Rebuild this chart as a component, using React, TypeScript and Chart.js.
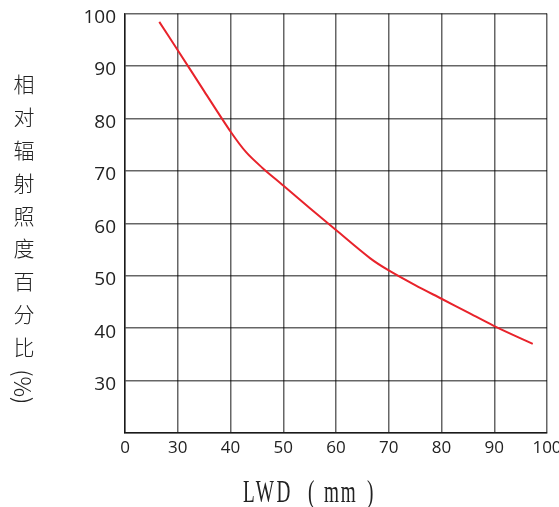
import React, { useEffect, useRef } from "react";
import Chart from "chart.js/auto";

// LWD (mm) vs relative irradiance (%)
const lwd: number[] = [26.5, 30, 35, 40, 43, 46, 50, 55, 60, 66.5, 70, 75, 80, 85, 90, 97.3];
const irradiance: number[] = [98.4, 93, 85.2, 77.5, 73.5, 70.6, 67.2, 62.9, 58.7, 53.3, 51, 48.2, 45.6, 43, 40.4, 37];

const xMin = 20;
const xMax = 100;
const yMin = 20;
const yMax = 100;
const step = 10;

const App: React.FC = () => {
  const chartRef = useRef<HTMLCanvasElement>(null);

  useEffect(() => {
    const ctx = chartRef.current!;
    const chart = new Chart(ctx, {
      type: "line",
      data: {
        datasets: [
          {
            data: lwd.map((x, i) => ({ x, y: irradiance[i] })),
            borderColor: "#e8232b",
            borderWidth: 2,
            pointRadius: 0,
            tension: 0.3,
            fill: false,
          },
        ],
      },
      options: {
        animation: false,
        responsive: false,
        maintainAspectRatio: false,
        layout: { padding: { left: 0, top: 13.5, right: 12, bottom: 0 } },
        plugins: { legend: { display: false }, tooltip: { enabled: false } },
        scales: {
          x: {
            type: "linear",
            min: xMin,
            max: xMax,
            ticks: {
              stepSize: step,
              padding: 5,
              color: "#222",
              font: { family: "'Open Sans'", size: 17 },
              callback: (v) => (v === xMin ? "0" : String(v)),
            },
            grid: { color: "rgba(0,0,0,0.6)", lineWidth: 1.5, drawTicks: false },
            border: { color: "rgba(0,0,0,0.75)", width: 1.5 },
            afterFit: (scale) => {
              scale.height = 74;
              scale.paddingLeft = 0;
              scale.paddingRight = 0;
            },
          },
          y: {
            min: yMin,
            max: yMax,
            ticks: {
              stepSize: step,
              padding: 9,
              labelOffset: 4,
              color: "#222",
              font: { family: "'Open Sans'", size: 19 },
              callback: (v) => (v === yMin ? "" : String(v)),
            },
            grid: { color: "rgba(0,0,0,0.6)", lineWidth: 1.5, drawTicks: false },
            border: { color: "rgba(0,0,0,0.75)", width: 1.5 },
            afterFit: (scale) => {
              scale.width = 125;
              scale.paddingTop = 0;
              scale.paddingBottom = 0;
            },
          },
        },
      },
    });

    return () => {
      chart.destroy();
    };
  }, []);

  const serifPart: React.CSSProperties = {
    position: "absolute",
    top: 476,
    fontFamily: "'Liberation Serif'",
    fontSize: 31,
    lineHeight: 1,
    color: "#222",
    transform: "scaleX(0.62)",
    transformOrigin: "left top",
    whiteSpace: "nowrap",
  };

  return (
    <div style={{ position: "absolute", left: 0, top: 0, width: 559, height: 507, background: "#fff" }}>
      <canvas ref={chartRef} width={559} height={507}></canvas>
      <div
        style={{
          position: "absolute",
          left: 7,
          top: 74,
          writingMode: "vertical-rl",
          fontFamily: "'Noto Sans CJK SC'",
          fontWeight: 300,
          fontSize: 21,
          letterSpacing: 11.8,
          color: "#222",
        }}
      >
        相对辐射照度百分比<span style={{ letterSpacing: 0, fontSize: 23 }}>(%)</span>
      </div>
      <span style={{ ...serifPart, left: 243, letterSpacing: 4 }}>LWD</span>
      <span style={{ ...serifPart, left: 308 }}>(</span>
      <span style={{ ...serifPart, left: 324, letterSpacing: 3 }}>mm</span>
      <span style={{ ...serifPart, left: 367 }}>)</span>
    </div>
  );
};

export default App;
